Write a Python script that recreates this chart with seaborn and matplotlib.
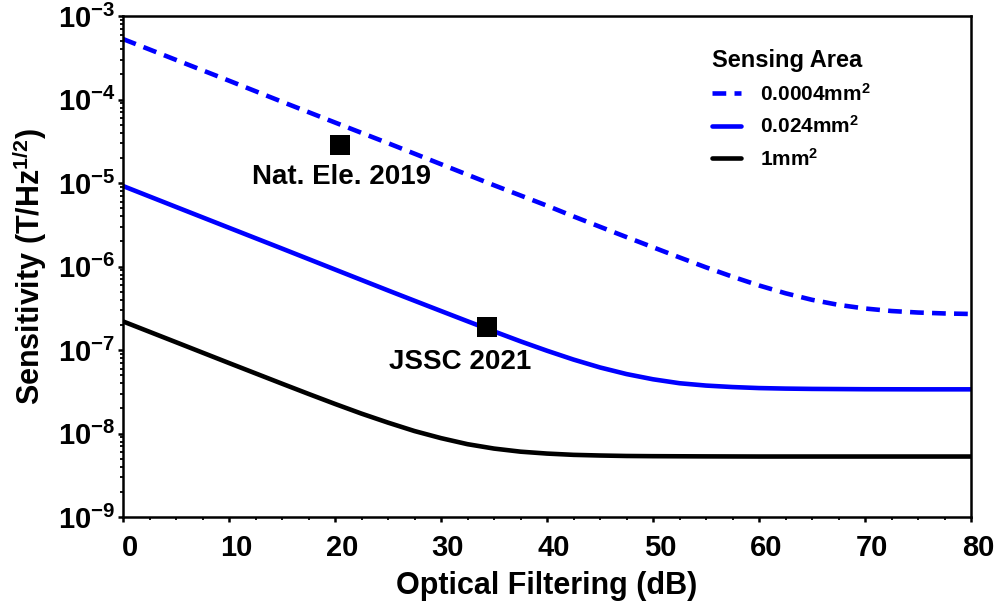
import numpy as np
import pandas as pd
import matplotlib
matplotlib.use("Agg")
import matplotlib.pyplot as plt
import matplotlib.ticker as mticker
import matplotlib.transforms as mtransforms
import seaborn as sns

# Optical filtering attenuation (dB) and sensitivity (T/Hz^1/2) per sensing area
db_0p0004 = [0, 5, 10, 15, 20, 25, 30, 35, 40, 42.5, 45, 47.5, 50, 52.5, 55, 57.5,
             60, 62.5, 65, 67.5, 70, 72.5, 75, 77.5, 80]
sens_0p0004 = [5.3e-4, 2.98e-4, 1.68e-4, 9.4e-5, 5.3e-5, 3.0e-5, 1.68e-5, 9.4e-6,
               5.35e-6, 3.98e-6, 2.99e-6, 2.25e-6, 1.70e-6, 1.285e-6, 9.77e-7, 7.55e-7,
               5.93e-7, 4.78e-7, 3.99e-7, 3.47e-7, 3.14e-7, 2.93e-7, 2.81e-7, 2.74e-7,
               2.70e-7]

db_0p024 = [0, 5, 10, 15, 20, 25, 27.5, 30, 32.5, 35, 37.5, 40, 42.5, 45, 47.5, 50,
            52.5, 55, 57.5, 60, 62.5, 65, 70, 75, 80]
sens_0p024 = [9.2e-6, 5.17e-6, 2.91e-6, 1.64e-6, 9.2e-7, 5.17e-7, 3.89e-7, 2.93e-7,
              2.21e-7, 1.67e-7, 1.27e-7, 9.8e-8, 7.68e-8, 6.18e-8, 5.15e-8, 4.46e-8,
              4.0e-8, 3.75e-8, 3.6e-8, 3.5e-8, 3.45e-8, 3.42e-8, 3.39e-8, 3.38e-8,
              3.38e-8]

db_1 = [0, 5, 10, 15, 17.5, 20, 22.5, 25, 27.5, 30, 32.5, 35, 37.5, 40, 42.5, 45,
        47.5, 50, 55, 60, 65, 70, 75, 80]
sens_1 = [2.2e-7, 1.24e-7, 6.98e-8, 3.95e-8, 2.98e-8, 2.26e-8, 1.73e-8, 1.35e-8,
          1.07e-8, 8.8e-9, 7.45e-9, 6.6e-9, 6.06e-9, 5.75e-9, 5.55e-9, 5.45e-9,
          5.38e-9, 5.35e-9, 5.32e-9, 5.3e-9, 5.3e-9, 5.3e-9, 5.3e-9, 5.3e-9]

area_labels = ["0.0004mm$^{2}$", "0.024mm$^{2}$", "1mm$^{2}$"]

# Reported devices
ref_names = ["Nat. Ele. 2019", "JSSC 2021"]
ref_db = [20.5, 34.3]
ref_sens = [2.85e-5, 1.9e-7]

y_ticks = [1e-9, 1e-8, 1e-7, 1e-6, 1e-5, 1e-4, 1e-3]
y_tick_labels = [r"$10^{-9}$", r"$10^{-8}$", r"$10^{-7}$", r"$10^{-6}$",
                 r"$10^{-5}$", r"$10^{-4}$", r"$10^{-3}$"]
x_ticks = [0, 10, 20, 30, 40, 50, 60, 70, 80]

sns.set_style("ticks")
plt.rcParams["font.family"] = ["Liberation Sans", "DejaVu Sans"]
plt.rcParams["font.weight"] = "bold"
plt.rcParams["mathtext.fontset"] = "custom"
plt.rcParams["mathtext.rm"] = "Liberation Sans:bold"
plt.rcParams["mathtext.it"] = "Liberation Sans:bold"
plt.rcParams["mathtext.bf"] = "Liberation Sans:bold"
plt.rcParams["mathtext.default"] = "rm"
for key in ["text.color", "axes.labelcolor", "xtick.color", "ytick.color",
            "axes.edgecolor"]:
    plt.rcParams[key] = "black"

fig = plt.figure(figsize=(9.99, 6.09), dpi=100)
ax = fig.add_axes([123 / 999, 1 - 517 / 609, (971 - 123) / 999, (517 - 16) / 609])

series = [
    (db_0p0004, sens_0p0004, "#0000ff", (0, (3.0, 1.8))),
    (db_0p024, sens_0p024, "#0000ff", "-"),
    (db_1, sens_1, "#000000", "-"),
]
for (xs, vals, color, ls), label in zip(series, area_labels):
    sns.lineplot(x=xs, y=vals, ax=ax, color=color, linestyle=ls,
                 linewidth=3.3, label=label)

sns.scatterplot(x=ref_db, y=ref_sens, ax=ax, marker="s", s=210, color="black",
                edgecolor="none", zorder=5, legend=False)
ax.text(20.6, 1.18e-5, ref_names[0], ha="center", va="center", fontsize=20,
        fontweight="bold", color="black")
ax.text(31.8, 7.2e-8, ref_names[1], ha="center", va="center", fontsize=20,
        fontweight="bold", color="black")

ax.set_yscale("log")
ax.set_xlim(0, 80)
ax.set_ylim(1e-9, 1e-3)
ax.yaxis.set_major_locator(mticker.FixedLocator(y_ticks))
ax.yaxis.set_major_formatter(mticker.FixedFormatter(y_tick_labels))
ax.yaxis.set_minor_locator(mticker.LogLocator(base=10, subs=np.arange(2, 10)))
ax.yaxis.set_minor_formatter(mticker.NullFormatter())
ax.xaxis.set_major_locator(mticker.FixedLocator(x_ticks))
ax.xaxis.set_minor_locator(mticker.MultipleLocator(2.5))

for sp in ax.spines.values():
    sp.set_visible(True)
    sp.set_linewidth(1.8)
    sp.set_color("black")

ax.tick_params(axis="both", which="major", direction="out", length=3.5, width=1.8,
               color="black")
ax.tick_params(axis="both", which="minor", direction="out", length=2, width=1.3,
               color="black")
ax.tick_params(axis="x", which="major", labelsize=21, pad=9)
ax.tick_params(axis="y", which="major", labelsize=21, pad=2)
shift = mtransforms.ScaledTranslation(7 / 100, 0, fig.dpi_scale_trans)
for lab in ax.get_xticklabels():
    lab.set_fontweight("bold")
    lab.set_transform(lab.get_transform() + shift)
for lab in ax.get_yticklabels():
    lab.set_fontweight("bold")

ax.set_xlabel("Optical Filtering (dB)", fontsize=22, fontweight="bold", labelpad=6)
ax.set_ylabel("Sensitivity (T/Hz$^{1/2}$)", fontsize=22, fontweight="bold", labelpad=6)

leg = ax.legend(loc="upper left", bbox_to_anchor=(702 / 999, 1 - 39 / 609),
                bbox_transform=fig.transFigure, frameon=False, fontsize=15,
                title="Sensing Area", title_fontproperties={"weight": "bold", "size": 17},
                handlelength=1.35, handletextpad=0.95, labelspacing=0.5,
                borderpad=0, alignment="left")
for t in leg.get_texts():
    t.set_fontweight("bold")
    t.set_color("black")
leg.get_title().set_color("black")

fig.savefig("out.png", dpi=100)
